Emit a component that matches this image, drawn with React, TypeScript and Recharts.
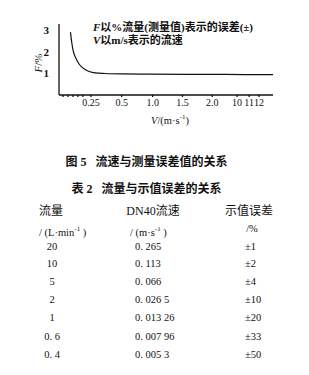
import React from 'react';
import { LineChart, Line, XAxis, YAxis, ReferenceLine } from 'recharts';

// curve: x = position on the (non-linear) velocity axis, F = error %
const curvePos = [0.37, 0.41, 0.46, 0.53, 0.62, 0.72, 0.84, 1.0, 1.16, 1.48, 2.0, 3.0, 4.0, 5.0, 6.0, 6.9];
const curveF = [2.92, 2.45, 2.04, 1.75, 1.5, 1.32, 1.19, 1.08, 1.03, 1.0, 0.98, 0.97, 0.96, 0.96, 0.95, 0.95];

const xTickPos = [0.13, 0.29, 0.45, 0.61, 0.77, 1.03, 2.02, 3.02, 3.98, 4.94, 5.74, 6.13, 6.45];
const xTickLabels = ['', '', '', '', '', '0.25', '0.5', '1.0', '1.5', '2.0', '10', '11', '12'];
const yTicks = [1, 2, 3];

const legendLine1 = '以%流量(测量值)表示的误差(±)';
const legendLine2 = '以m/s表示的流速';
const figCaption = '图 5   流速与测量误差值的关系';
const tableCaption = '表 2   流量与示值误差的关系';

const flowRates = ['20', '10', '5', '2', '1', '0. 6', '0. 4'];
const velocities = ['0. 265', '0. 113', '0. 066', '0. 026 5', '0. 013 26', '0. 007 96', '0. 005 3'];
const errors = ['±1', '±2', '±4', '±10', '±20', '±33', '±50'];

const data = curvePos.map((p, i) => ({ pos: p, f: curveF[i] }));
const FONT = "'Liberation Serif', 'Noto Sans CJK SC', serif";

const T = (props: { left: number; top: number; center?: boolean; size?: number; bold?: boolean; children: React.ReactNode }) => (
  <div
    style={{
      position: 'absolute',
      left: props.left,
      top: props.top,
      fontSize: props.size ?? 11,
      lineHeight: '14px',
      fontWeight: props.bold ? 'bold' : 'normal',
      whiteSpace: 'pre',
      transform: props.center ? 'translateX(-50%)' : undefined,
      color: '#111',
    }}
  >
    {props.children}
  </div>
);

export default function App() {
  const rowTop = [240, 257, 275, 293, 311, 330, 348];
  return (
    <div
      style={{
        position: 'absolute',
        left: 0,
        top: 0,
        width: 309,
        height: 375,
        background: '#fff',
        overflow: 'hidden',
        fontFamily: FONT,
      }}
    >
      <LineChart width={309} height={130} data={data} margin={{ top: 24, right: 36, bottom: 0, left: 0 }}>
        <XAxis
          dataKey="pos"
          type="number"
          domain={[0, 6.9]}
          ticks={xTickPos}
          interval={0}
          tickFormatter={(v: number) => xTickLabels[xTickPos.indexOf(v)] ?? ''}
          height={35}
          tickSize={2}
          tickMargin={2}
          axisLine={{ stroke: '#111', strokeWidth: 1.3 }}
          tickLine={{ stroke: '#111', strokeWidth: 1.3 }}
          tick={{ fill: '#111', fontSize: 10, fontFamily: FONT }}
        />
        <YAxis
          type="number"
          domain={[0, 3.3]}
          ticks={yTicks}
          width={59}
          tickLine={false}
          tickMargin={4}
          axisLine={{ stroke: '#111', strokeWidth: 1.3 }}
          tick={{ fill: '#111', fontSize: 11, fontFamily: FONT, fontWeight: 'bold' }}
        />
        <ReferenceLine
          segment={[{ x: 5.1, y: 0 }, { x: 5.6, y: 0 }]}
          stroke="#fff"
          strokeWidth={2}
          strokeDasharray="1 2"
        />
        <Line
          type="monotone"
          dataKey="f"
          stroke="#111"
          strokeWidth={1.2}
          dot={false}
          isAnimationActive={false}
        />
      </LineChart>

      <T left={93} top={20} bold>
        <i>F</i>{legendLine1}
      </T>
      <T left={93} top={33} bold>
        <i>V</i>{legendLine2}
      </T>

      <div
        style={{
          position: 'absolute',
          left: 38,
          top: 63,
          transform: 'translate(-50%, -50%) rotate(-90deg)',
          fontSize: 11,
          whiteSpace: 'nowrap',
          color: '#111',
        }}
      >
        <i>F</i>/%
      </div>

      <T left={170} top={110} center size={10.5}>
        <i>V</i>/(m·s<sup style={{ fontSize: 7 }}>-1</sup>)
      </T>

      <T left={146.5} top={155} center size={12} bold>{figCaption}</T>
      <T left={146.5} top={182} center size={12} bold>{tableCaption}</T>

      <T left={51} top={204} center size={12}>流量</T>
      <T left={153} top={204} center size={12}>DN40流速</T>
      <T left={249} top={204} center size={12}>示值误差</T>

      <T left={39} top={222} size={10.5}>
        / (L·min<sup style={{ fontSize: 7 }}>-1</sup> )
      </T>
      <T left={130} top={222} size={10.5}>
        / (m·s<sup style={{ fontSize: 7 }}>-1</sup> )
      </T>
      <T left={252} top={222} center size={10.5}>/%</T>

      {flowRates.map((v, i) => (
        <T key={'a' + i} left={52} top={rowTop[i]} center size={10.5}>{v}</T>
      ))}
      {velocities.map((v, i) => (
        <T key={'b' + i} left={135} top={rowTop[i]} size={10.5}>{v}</T>
      ))}
      {errors.map((v, i) => (
        <T key={'c' + i} left={245} top={rowTop[i]} size={10.5}>{v}</T>
      ))}
    </div>
  );
}
